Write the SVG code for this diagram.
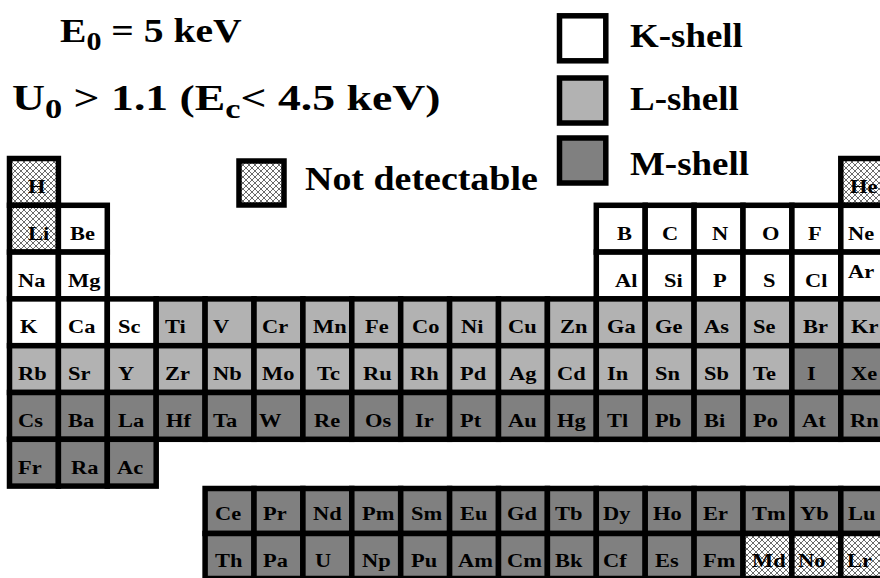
<svg xmlns="http://www.w3.org/2000/svg" width="880" height="578" viewBox="0 0 880 578">
  <defs>
    <!-- cross-hatch fill for elements that cannot be detected -->
    <pattern id="hatch" width="6" height="6" patternUnits="userSpaceOnUse">
      <rect class="bg" width="6" height="6"/>
      <path d="M0,0 L6,6 M6,0 L0,6 M-1,5 L1,7 M5,-1 L7,1 M-1,1 L1,-1 M5,7 L7,5" stroke="#5a5a5a" stroke-width="0.9"/>
    </pattern>
    <style>
      .bg { fill: #ffffff; stroke: none; }
      .cell rect, .lg rect { stroke: #000; stroke-width: 5.5; }
      .k rect { fill: #ffffff; }
      .l rect { fill: #b2b2b2; }
      .m rect { fill: #808080; }
      .n rect { fill: url(#hatch); }
      text { font-family: "Liberation Serif", "Times New Roman", serif; font-weight: bold; fill: #000; }
      .cell text { font-size: 19.5px; }
      .lg text { font-size: 33px; }
    </style>
  </defs>

  <!-- headings -->
  <g id="title">
    <text transform="matrix(1.2,0,0,1,60,42)" style="font-size:33px">E<tspan font-size="25" dy="8">0</tspan><tspan dy="-8"> = 5 keV</tspan></text>
    <text transform="matrix(1.27,0,0,1,12,110)" style="font-size:36px">U<tspan font-size="27" dy="8">0</tspan><tspan dy="-8"> &gt; 1.1 (E</tspan><tspan font-size="27" dy="8">c</tspan><tspan dy="-8">&lt; 4.5 keV)</tspan></text>
  </g>

  <!-- legend -->
  <g id="legend-k" class="lg k"><rect x="559.5" y="15.8" width="46.3" height="45"/><text transform="matrix(1.12,0,0,1,630,47)">K-shell</text></g>
  <g id="legend-l" class="lg l"><rect x="559.5" y="78" width="46.3" height="45"/><text transform="matrix(1.12,0,0,1,630,110)">L-shell</text></g>
  <g id="legend-m" class="lg m"><rect x="559.5" y="138" width="46.3" height="45"/><text transform="matrix(1.12,0,0,1,630,175)">M-shell</text></g>
  <g id="legend-n" class="lg n"><rect x="239" y="161" width="45" height="44"/><text transform="matrix(1.15,0,0,1,305,190)">Not detectable</text></g>

  <!-- period 1 -->
  <g id="el-H" class="cell n"><rect x="9.5" y="158.5" width="48.9" height="46.8"/><text transform="matrix(1.15,0,0,1,28,192.5)">H</text></g>
  <g id="el-He" class="cell n"><rect x="840.8" y="158.5" width="48.9" height="46.8"/><text transform="matrix(1.15,0,0,1,850,192.5)">He</text></g>

  <!-- period 2 -->
  <g id="el-Li" class="cell n"><rect x="9.5" y="205.3" width="48.9" height="46.8"/><text transform="matrix(1.15,0,0,1,28,239.5)">Li</text></g>
  <g id="el-Be" class="cell k"><rect x="58.4" y="205.3" width="48.9" height="46.8"/><text transform="matrix(1.15,0,0,1,70,239.5)">Be</text></g>
  <g id="el-B" class="cell k"><rect x="596.3" y="205.3" width="48.9" height="46.8"/><text transform="matrix(1.15,0,0,1,617,239.5)">B</text></g>
  <g id="el-C" class="cell k"><rect x="645.2" y="205.3" width="48.9" height="46.8"/><text transform="matrix(1.15,0,0,1,662,239.5)">C</text></g>
  <g id="el-N" class="cell k"><rect x="694.1" y="205.3" width="48.9" height="46.8"/><text transform="matrix(1.15,0,0,1,712,239.5)">N</text></g>
  <g id="el-O" class="cell k"><rect x="743" y="205.3" width="48.9" height="46.8"/><text transform="matrix(1.15,0,0,1,762,239.5)">O</text></g>
  <g id="el-F" class="cell k"><rect x="791.9" y="205.3" width="48.9" height="46.8"/><text transform="matrix(1.15,0,0,1,808,239.5)">F</text></g>
  <g id="el-Ne" class="cell k"><rect x="840.8" y="205.3" width="48.9" height="46.8"/><text transform="matrix(1.15,0,0,1,848,239.5)">Ne</text></g>

  <!-- period 3 -->
  <g id="el-Na" class="cell k"><rect x="9.5" y="252.1" width="48.9" height="46.8"/><text transform="matrix(1.15,0,0,1,18,286.5)">Na</text></g>
  <g id="el-Mg" class="cell k"><rect x="58.4" y="252.1" width="48.9" height="46.8"/><text transform="matrix(1.15,0,0,1,68,286.5)">Mg</text></g>
  <g id="el-Al" class="cell k"><rect x="596.3" y="252.1" width="48.9" height="46.8"/><text transform="matrix(1.15,0,0,1,615,286.5)">Al</text></g>
  <g id="el-Si" class="cell k"><rect x="645.2" y="252.1" width="48.9" height="46.8"/><text transform="matrix(1.15,0,0,1,664,286.5)">Si</text></g>
  <g id="el-P" class="cell k"><rect x="694.1" y="252.1" width="48.9" height="46.8"/><text transform="matrix(1.15,0,0,1,713,286.5)">P</text></g>
  <g id="el-S" class="cell k"><rect x="743" y="252.1" width="48.9" height="46.8"/><text transform="matrix(1.15,0,0,1,763,286.5)">S</text></g>
  <g id="el-Cl" class="cell k"><rect x="791.9" y="252.1" width="48.9" height="46.8"/><text transform="matrix(1.15,0,0,1,805,286.5)">Cl</text></g>
  <g id="el-Ar" class="cell k"><rect x="840.8" y="252.1" width="48.9" height="46.8"/><text transform="matrix(1.15,0,0,1,848,278)">Ar</text></g>

  <!-- period 4 -->
  <g id="el-K" class="cell k"><rect x="9.5" y="298.9" width="48.9" height="46.8"/><text transform="matrix(1.15,0,0,1,20,333)">K</text></g>
  <g id="el-Ca" class="cell k"><rect x="58.4" y="298.9" width="48.9" height="46.8"/><text transform="matrix(1.15,0,0,1,68,333)">Ca</text></g>
  <g id="el-Sc" class="cell k"><rect x="107.3" y="298.9" width="48.9" height="46.8"/><text transform="matrix(1.15,0,0,1,118,333)">Sc</text></g>
  <g id="el-Ti" class="cell l"><rect x="156.2" y="298.9" width="48.9" height="46.8"/><text transform="matrix(1.15,0,0,1,165,333)">Ti</text></g>
  <g id="el-V" class="cell l"><rect x="205.1" y="298.9" width="48.9" height="46.8"/><text transform="matrix(1.15,0,0,1,213,333)">V</text></g>
  <g id="el-Cr" class="cell l"><rect x="254" y="298.9" width="48.9" height="46.8"/><text transform="matrix(1.15,0,0,1,262,333)">Cr</text></g>
  <g id="el-Mn" class="cell l"><rect x="302.9" y="298.9" width="48.9" height="46.8"/><text transform="matrix(1.15,0,0,1,313,333)">Mn</text></g>
  <g id="el-Fe" class="cell l"><rect x="351.8" y="298.9" width="48.9" height="46.8"/><text transform="matrix(1.15,0,0,1,365,333)">Fe</text></g>
  <g id="el-Co" class="cell l"><rect x="400.7" y="298.9" width="48.9" height="46.8"/><text transform="matrix(1.15,0,0,1,412,333)">Co</text></g>
  <g id="el-Ni" class="cell l"><rect x="449.6" y="298.9" width="48.9" height="46.8"/><text transform="matrix(1.15,0,0,1,461,333)">Ni</text></g>
  <g id="el-Cu" class="cell l"><rect x="498.5" y="298.9" width="48.9" height="46.8"/><text transform="matrix(1.15,0,0,1,508,333)">Cu</text></g>
  <g id="el-Zn" class="cell l"><rect x="547.4" y="298.9" width="48.9" height="46.8"/><text transform="matrix(1.15,0,0,1,560,333)">Zn</text></g>
  <g id="el-Ga" class="cell l"><rect x="596.3" y="298.9" width="48.9" height="46.8"/><text transform="matrix(1.15,0,0,1,607,333)">Ga</text></g>
  <g id="el-Ge" class="cell l"><rect x="645.2" y="298.9" width="48.9" height="46.8"/><text transform="matrix(1.15,0,0,1,655,333)">Ge</text></g>
  <g id="el-As" class="cell l"><rect x="694.1" y="298.9" width="48.9" height="46.8"/><text transform="matrix(1.15,0,0,1,704,333)">As</text></g>
  <g id="el-Se" class="cell l"><rect x="743" y="298.9" width="48.9" height="46.8"/><text transform="matrix(1.15,0,0,1,753,333)">Se</text></g>
  <g id="el-Br" class="cell l"><rect x="791.9" y="298.9" width="48.9" height="46.8"/><text transform="matrix(1.15,0,0,1,803,333)">Br</text></g>
  <g id="el-Kr" class="cell l"><rect x="840.8" y="298.9" width="48.9" height="46.8"/><text transform="matrix(1.15,0,0,1,851,333)">Kr</text></g>

  <!-- period 5 -->
  <g id="el-Rb" class="cell l"><rect x="9.5" y="345.7" width="48.9" height="46.8"/><text transform="matrix(1.15,0,0,1,18,380)">Rb</text></g>
  <g id="el-Sr" class="cell l"><rect x="58.4" y="345.7" width="48.9" height="46.8"/><text transform="matrix(1.15,0,0,1,68,380)">Sr</text></g>
  <g id="el-Y" class="cell l"><rect x="107.3" y="345.7" width="48.9" height="46.8"/><text transform="matrix(1.15,0,0,1,118,380)">Y</text></g>
  <g id="el-Zr" class="cell l"><rect x="156.2" y="345.7" width="48.9" height="46.8"/><text transform="matrix(1.15,0,0,1,165,380)">Zr</text></g>
  <g id="el-Nb" class="cell l"><rect x="205.1" y="345.7" width="48.9" height="46.8"/><text transform="matrix(1.15,0,0,1,213,380)">Nb</text></g>
  <g id="el-Mo" class="cell l"><rect x="254" y="345.7" width="48.9" height="46.8"/><text transform="matrix(1.15,0,0,1,262,380)">Mo</text></g>
  <g id="el-Tc" class="cell l"><rect x="302.9" y="345.7" width="48.9" height="46.8"/><text transform="matrix(1.15,0,0,1,317,380)">Tc</text></g>
  <g id="el-Ru" class="cell l"><rect x="351.8" y="345.7" width="48.9" height="46.8"/><text transform="matrix(1.15,0,0,1,363,380)">Ru</text></g>
  <g id="el-Rh" class="cell l"><rect x="400.7" y="345.7" width="48.9" height="46.8"/><text transform="matrix(1.15,0,0,1,410,380)">Rh</text></g>
  <g id="el-Pd" class="cell l"><rect x="449.6" y="345.7" width="48.9" height="46.8"/><text transform="matrix(1.15,0,0,1,460,380)">Pd</text></g>
  <g id="el-Ag" class="cell l"><rect x="498.5" y="345.7" width="48.9" height="46.8"/><text transform="matrix(1.15,0,0,1,509,380)">Ag</text></g>
  <g id="el-Cd" class="cell l"><rect x="547.4" y="345.7" width="48.9" height="46.8"/><text transform="matrix(1.15,0,0,1,557,380)">Cd</text></g>
  <g id="el-In" class="cell l"><rect x="596.3" y="345.7" width="48.9" height="46.8"/><text transform="matrix(1.15,0,0,1,607,380)">In</text></g>
  <g id="el-Sn" class="cell l"><rect x="645.2" y="345.7" width="48.9" height="46.8"/><text transform="matrix(1.15,0,0,1,655,380)">Sn</text></g>
  <g id="el-Sb" class="cell l"><rect x="694.1" y="345.7" width="48.9" height="46.8"/><text transform="matrix(1.15,0,0,1,704,380)">Sb</text></g>
  <g id="el-Te" class="cell l"><rect x="743" y="345.7" width="48.9" height="46.8"/><text transform="matrix(1.15,0,0,1,753,380)">Te</text></g>
  <g id="el-I" class="cell m"><rect x="791.9" y="345.7" width="48.9" height="46.8"/><text transform="matrix(1.15,0,0,1,807,380)">I</text></g>
  <g id="el-Xe" class="cell m"><rect x="840.8" y="345.7" width="48.9" height="46.8"/><text transform="matrix(1.15,0,0,1,851,380)">Xe</text></g>

  <!-- period 6 -->
  <g id="el-Cs" class="cell m"><rect x="9.5" y="392.5" width="48.9" height="46.8"/><text transform="matrix(1.15,0,0,1,18,427)">Cs</text></g>
  <g id="el-Ba" class="cell m"><rect x="58.4" y="392.5" width="48.9" height="46.8"/><text transform="matrix(1.15,0,0,1,68,427)">Ba</text></g>
  <g id="el-La" class="cell m"><rect x="107.3" y="392.5" width="48.9" height="46.8"/><text transform="matrix(1.15,0,0,1,118,427)">La</text></g>
  <g id="el-Hf" class="cell m"><rect x="156.2" y="392.5" width="48.9" height="46.8"/><text transform="matrix(1.15,0,0,1,166,427)">Hf</text></g>
  <g id="el-Ta" class="cell m"><rect x="205.1" y="392.5" width="48.9" height="46.8"/><text transform="matrix(1.15,0,0,1,213,427)">Ta</text></g>
  <g id="el-W" class="cell m"><rect x="254" y="392.5" width="48.9" height="46.8"/><text transform="matrix(1.15,0,0,1,259,427)">W</text></g>
  <g id="el-Re" class="cell m"><rect x="302.9" y="392.5" width="48.9" height="46.8"/><text transform="matrix(1.15,0,0,1,314,427)">Re</text></g>
  <g id="el-Os" class="cell m"><rect x="351.8" y="392.5" width="48.9" height="46.8"/><text transform="matrix(1.15,0,0,1,365,427)">Os</text></g>
  <g id="el-Ir" class="cell m"><rect x="400.7" y="392.5" width="48.9" height="46.8"/><text transform="matrix(1.15,0,0,1,415,427)">Ir</text></g>
  <g id="el-Pt" class="cell m"><rect x="449.6" y="392.5" width="48.9" height="46.8"/><text transform="matrix(1.15,0,0,1,460,427)">Pt</text></g>
  <g id="el-Au" class="cell m"><rect x="498.5" y="392.5" width="48.9" height="46.8"/><text transform="matrix(1.15,0,0,1,508,427)">Au</text></g>
  <g id="el-Hg" class="cell m"><rect x="547.4" y="392.5" width="48.9" height="46.8"/><text transform="matrix(1.15,0,0,1,557,427)">Hg</text></g>
  <g id="el-Tl" class="cell m"><rect x="596.3" y="392.5" width="48.9" height="46.8"/><text transform="matrix(1.15,0,0,1,607,427)">Tl</text></g>
  <g id="el-Pb" class="cell m"><rect x="645.2" y="392.5" width="48.9" height="46.8"/><text transform="matrix(1.15,0,0,1,655,427)">Pb</text></g>
  <g id="el-Bi" class="cell m"><rect x="694.1" y="392.5" width="48.9" height="46.8"/><text transform="matrix(1.15,0,0,1,704,427)">Bi</text></g>
  <g id="el-Po" class="cell m"><rect x="743" y="392.5" width="48.9" height="46.8"/><text transform="matrix(1.15,0,0,1,753,427)">Po</text></g>
  <g id="el-At" class="cell m"><rect x="791.9" y="392.5" width="48.9" height="46.8"/><text transform="matrix(1.15,0,0,1,802,427)">At</text></g>
  <g id="el-Rn" class="cell m"><rect x="840.8" y="392.5" width="48.9" height="46.8"/><text transform="matrix(1.15,0,0,1,850,427)">Rn</text></g>

  <!-- period 7 -->
  <g id="el-Fr" class="cell m"><rect x="9.5" y="439.3" width="48.9" height="46.8"/><text transform="matrix(1.15,0,0,1,18,473.5)">Fr</text></g>
  <g id="el-Ra" class="cell m"><rect x="58.4" y="439.3" width="48.9" height="46.8"/><text transform="matrix(1.15,0,0,1,71,473.5)">Ra</text></g>
  <g id="el-Ac" class="cell m"><rect x="107.3" y="439.3" width="48.9" height="46.8"/><text transform="matrix(1.15,0,0,1,117,473.5)">Ac</text></g>

  <!-- lanthanides -->
  <g id="el-Ce" class="cell m"><rect x="205.1" y="488.5" width="48.9" height="45"/><text transform="matrix(1.15,0,0,1,215,520)">Ce</text></g>
  <g id="el-Pr" class="cell m"><rect x="254" y="488.5" width="48.9" height="45"/><text transform="matrix(1.15,0,0,1,263,520)">Pr</text></g>
  <g id="el-Nd" class="cell m"><rect x="302.9" y="488.5" width="48.9" height="45"/><text transform="matrix(1.15,0,0,1,313,520)">Nd</text></g>
  <g id="el-Pm" class="cell m"><rect x="351.8" y="488.5" width="48.9" height="45"/><text transform="matrix(1.15,0,0,1,362,520)">Pm</text></g>
  <g id="el-Sm" class="cell m"><rect x="400.7" y="488.5" width="48.9" height="45"/><text transform="matrix(1.15,0,0,1,411,520)">Sm</text></g>
  <g id="el-Eu" class="cell m"><rect x="449.6" y="488.5" width="48.9" height="45"/><text transform="matrix(1.15,0,0,1,460,520)">Eu</text></g>
  <g id="el-Gd" class="cell m"><rect x="498.5" y="488.5" width="48.9" height="45"/><text transform="matrix(1.15,0,0,1,507,520)">Gd</text></g>
  <g id="el-Tb" class="cell m"><rect x="547.4" y="488.5" width="48.9" height="45"/><text transform="matrix(1.15,0,0,1,555,520)">Tb</text></g>
  <g id="el-Dy" class="cell m"><rect x="596.3" y="488.5" width="48.9" height="45"/><text transform="matrix(1.15,0,0,1,603,520)">Dy</text></g>
  <g id="el-Ho" class="cell m"><rect x="645.2" y="488.5" width="48.9" height="45"/><text transform="matrix(1.15,0,0,1,653,520)">Ho</text></g>
  <g id="el-Er" class="cell m"><rect x="694.1" y="488.5" width="48.9" height="45"/><text transform="matrix(1.15,0,0,1,703,520)">Er</text></g>
  <g id="el-Tm" class="cell m"><rect x="743" y="488.5" width="48.9" height="45"/><text transform="matrix(1.15,0,0,1,752,520)">Tm</text></g>
  <g id="el-Yb" class="cell m"><rect x="791.9" y="488.5" width="48.9" height="45"/><text transform="matrix(1.15,0,0,1,800,520)">Yb</text></g>
  <g id="el-Lu" class="cell m"><rect x="840.8" y="488.5" width="48.9" height="45"/><text transform="matrix(1.15,0,0,1,848,520)">Lu</text></g>

  <!-- actinides -->
  <g id="el-Th" class="cell m"><rect x="205.1" y="533.5" width="48.9" height="45"/><text transform="matrix(1.15,0,0,1,215,567)">Th</text></g>
  <g id="el-Pa" class="cell m"><rect x="254" y="533.5" width="48.9" height="45"/><text transform="matrix(1.15,0,0,1,263,567)">Pa</text></g>
  <g id="el-U" class="cell m"><rect x="302.9" y="533.5" width="48.9" height="45"/><text transform="matrix(1.15,0,0,1,315,567)">U</text></g>
  <g id="el-Np" class="cell m"><rect x="351.8" y="533.5" width="48.9" height="45"/><text transform="matrix(1.15,0,0,1,362,567)">Np</text></g>
  <g id="el-Pu" class="cell m"><rect x="400.7" y="533.5" width="48.9" height="45"/><text transform="matrix(1.15,0,0,1,411,567)">Pu</text></g>
  <g id="el-Am" class="cell m"><rect x="449.6" y="533.5" width="48.9" height="45"/><text transform="matrix(1.15,0,0,1,458,567)">Am</text></g>
  <g id="el-Cm" class="cell m"><rect x="498.5" y="533.5" width="48.9" height="45"/><text transform="matrix(1.15,0,0,1,507,567)">Cm</text></g>
  <g id="el-Bk" class="cell m"><rect x="547.4" y="533.5" width="48.9" height="45"/><text transform="matrix(1.15,0,0,1,555,567)">Bk</text></g>
  <g id="el-Cf" class="cell m"><rect x="596.3" y="533.5" width="48.9" height="45"/><text transform="matrix(1.15,0,0,1,603,567)">Cf</text></g>
  <g id="el-Es" class="cell m"><rect x="645.2" y="533.5" width="48.9" height="45"/><text transform="matrix(1.15,0,0,1,655,567)">Es</text></g>
  <g id="el-Fm" class="cell m"><rect x="694.1" y="533.5" width="48.9" height="45"/><text transform="matrix(1.15,0,0,1,703,567)">Fm</text></g>
  <g id="el-Md" class="cell n"><rect x="743" y="533.5" width="48.9" height="45"/><text transform="matrix(1.15,0,0,1,752,567)">Md</text></g>
  <g id="el-No" class="cell n"><rect x="791.9" y="533.5" width="48.9" height="45"/><text transform="matrix(1.15,0,0,1,798,567)">No</text></g>
  <g id="el-Lr" class="cell n"><rect x="840.8" y="533.5" width="48.9" height="45"/><text transform="matrix(1.15,0,0,1,847,567)">Lr</text></g>

  <!-- no connectors in this chart -->
  <g id="connectors"/>
</svg>
